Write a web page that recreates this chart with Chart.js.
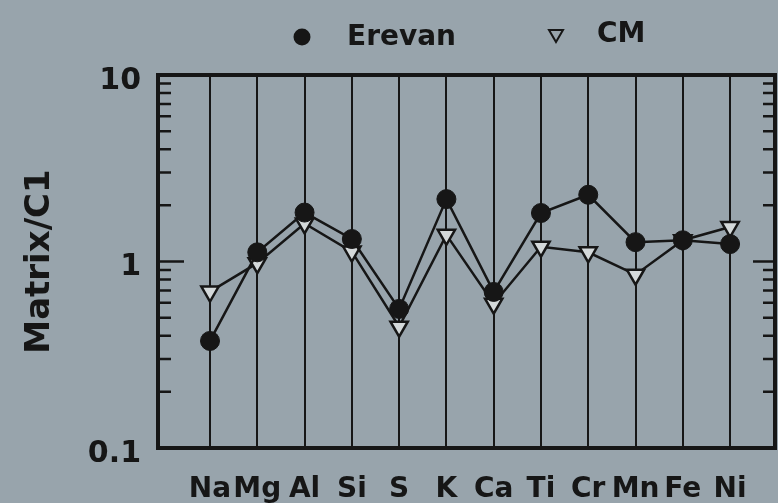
<!DOCTYPE html>
<html><head><meta charset="utf-8">
<script src="https://cdn.jsdelivr.net/npm/chart.js@4.4.1/dist/chart.umd.min.js"></script>
<style>html,body{margin:0;padding:0;background:#98a4ac;overflow:hidden}</style>
</head><body>
<canvas id="c" width="778" height="503"></canvas>
<script>
const categories = ['Na','Mg','Al','Si','S','K','Ca','Ti','Cr','Mn','Fe','Ni'];
const erevanValues = [0.375, 1.12, 1.83, 1.32, 0.557, 2.16, 0.687, 1.82, 2.28, 1.27, 1.30, 1.24];
const cmValues = [0.69, 0.98, 1.60, 1.13, 0.447, 1.39, 0.594, 1.20, 1.12, 0.85, 1.30, 1.53];
const yTickValues = [0.1, 1, 10];
const yMinorTicks = [0.2,0.3,0.4,0.5,0.6,0.7,0.8,0.9,2,3,4,5,6,7,8,9];
const seriesNames = ['Erevan', 'CM'];

const INK = '#161616';
const BG = '#98a4ac';
const FONT = "'DejaVu Sans', 'Liberation Sans', sans-serif";

const bgPlugin = {
  id: 'bg',
  beforeDraw(chart) {
    const ctx = chart.ctx;
    ctx.save();
    ctx.fillStyle = BG;
    ctx.fillRect(0, 0, chart.width, chart.height);
    ctx.restore();
  }
};

const framePlugin = {
  id: 'frame',
  beforeDatasetsDraw(chart) {
    const {ctx, chartArea: a, scales} = chart;
    const y = scales.y;
    ctx.save();
    ctx.strokeStyle = INK;
    ctx.lineWidth = 2.5;
    yMinorTicks.forEach(v => {
      const py = y.getPixelForValue(v);
      ctx.beginPath();
      ctx.moveTo(a.left, py); ctx.lineTo(a.left + 13, py);
      ctx.moveTo(a.right, py); ctx.lineTo(a.right - 12, py);
      ctx.stroke();
    });
    yTickValues.forEach(v => {
      const py = y.getPixelForValue(v);
      ctx.beginPath();
      ctx.moveTo(a.left, py); ctx.lineTo(a.left + 26, py);
      ctx.moveTo(a.right, py); ctx.lineTo(a.right - 22, py);
      ctx.stroke();
    });
    ctx.lineWidth = 4;
    ctx.strokeRect(a.left, a.top, a.right - a.left, a.bottom - a.top);
    ctx.restore();
  }
};

const legendPlugin = {
  id: 'customLegend',
  afterDraw(chart) {
    const ctx = chart.ctx;
    ctx.save();
    ctx.fillStyle = INK;
    ctx.strokeStyle = INK;
    ctx.beginPath();
    ctx.arc(302, 37, 8.5, 0, Math.PI * 2);
    ctx.fill();
    ctx.lineWidth = 2;
    ctx.beginPath();
    ctx.moveTo(549, 30); ctx.lineTo(563, 30); ctx.lineTo(556, 42); ctx.closePath();
    ctx.stroke();
    ctx.font = 'bold 28px ' + FONT;
    ctx.textBaseline = 'middle';
    ctx.textAlign = 'left';
    ctx.fillText(seriesNames[0], 347, 38);
    ctx.fillText(seriesNames[1], 597, 35);
    ctx.restore();
  }
};

const toPoints = arr => arr.map((v, i) => ({x: i, y: v}));

new Chart(document.getElementById('c'), {
  type: 'line',
  data: {
    datasets: [
      {
        label: seriesNames[0],
        data: toPoints(erevanValues),
        borderColor: INK,
        backgroundColor: INK,
        borderWidth: 2.5,
        pointStyle: 'circle',
        pointRadius: 9.5,
        pointBackgroundColor: INK,
        pointBorderColor: INK,
        pointBorderWidth: 1,
        order: 1
      },
      {
        label: seriesNames[1],
        data: toPoints(cmValues),
        borderColor: INK,
        backgroundColor: '#d4d9da',
        borderWidth: 2.5,
        pointStyle: 'triangle',
        rotation: 180,
        pointRadius: 10,
        pointBackgroundColor: '#d4d9da',
        pointBorderColor: INK,
        pointBorderWidth: 2.5,
        order: 2
      }
    ]
  },
  options: {
    responsive: false,
    animation: false,
    devicePixelRatio: 1,
    layout: {autoPadding: false, padding: {top: 75, right: 3, bottom: 0, left: 0}},
    plugins: {legend: {display: false}, tooltip: {enabled: false}},
    scales: {
      x: {
        type: 'linear',
        min: -1.1,
        max: 11.95,
        afterBuildTicks: s => { s.ticks = categories.map((_, i) => ({value: i})); },
        afterFit: s => { s.height = 55; s.paddingLeft = 0; s.paddingRight = 0; },
        ticks: {
          autoSkip: false,
          maxRotation: 0,
          color: INK,
          padding: 25,
          font: {family: FONT, size: 28, weight: 'bold'},
          callback: v => categories[v] ?? ''
        },
        grid: {color: INK, lineWidth: 2, drawTicks: false},
        border: {display: false}
      },
      y: {
        type: 'logarithmic',
        min: 0.1,
        max: 10,
        afterBuildTicks: s => { s.ticks = yTickValues.map(v => ({value: v})); },
        afterFit: s => { s.width = 158; s.paddingTop = 0; s.paddingBottom = 0; },
        ticks: {
          color: INK,
          padding: 9,
          labelOffset: 6,
          font: {family: FONT, size: 30, weight: 'bold'},
          callback: v => String(v)
        },
        grid: {display: false},
        border: {display: false},
        title: {
          display: true,
          text: 'Matrix/C1',
          color: INK,
          padding: {top: 20, bottom: 0},
          font: {family: FONT, size: 34, weight: 'bold'}
        }
      }
    }
  },
  plugins: [bgPlugin, framePlugin, legendPlugin]
});
</script>
</body></html>
